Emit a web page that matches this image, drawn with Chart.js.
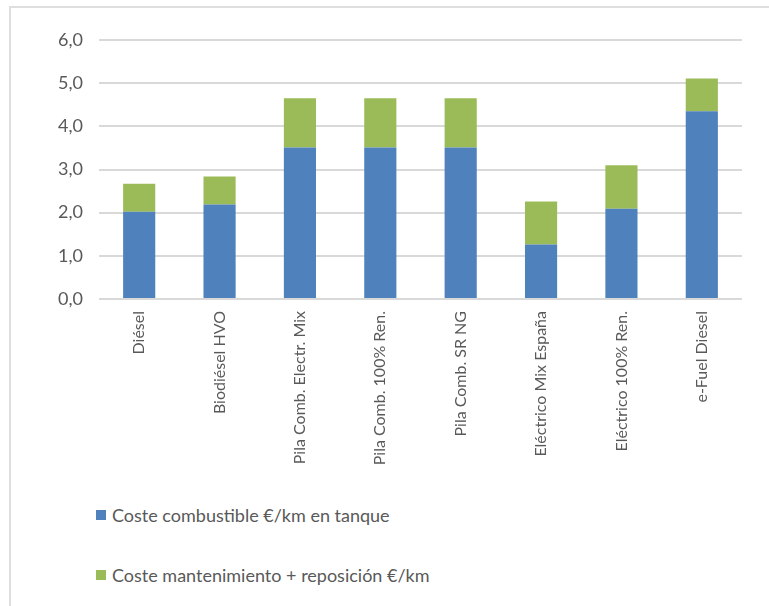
<!DOCTYPE html>
<html lang="es">
<head>
<meta charset="utf-8">
<title>Coste por km</title>
<script src="https://cdn.jsdelivr.net/npm/chart.js@4.4.1/dist/chart.umd.min.js"></script>
<style>
  html, body { margin: 0; padding: 0; background: #fff; }
  #wrap { position: relative; width: 769px; height: 606px; overflow: hidden; background: #fff; }
  #frame { position: absolute; left: 9px; top: 6px; width: 800px; height: 700px; border: 2px solid #dedede; box-sizing: border-box; }
  #costChart { position: absolute; left: 0; top: 0; }
  #legend { position: absolute; left: 96px; top: 0; font-family: Lato, sans-serif; font-size: 18px; color: #595959; }
  .leg-item { position: absolute; left: 0; display: flex; align-items: center; white-space: nowrap; transform: translateY(-50%); }
  .leg-box { width: 10px; height: 10px; margin-right: 6px; }
</style>
</head>
<body>
<div id="wrap">
  <div id="frame"></div>
  <canvas id="costChart" width="769" height="480"></canvas>
  <div id="legend"></div>
</div>
<script>
// Coste por km de cada tecnología
const categories = ['Diésel', 'Biodiésel HVO', 'Pila Comb. Electr. Mix', 'Pila Comb. 100% Ren.',
  'Pila Comb. SR NG', 'Eléctrico Mix España', 'Eléctrico 100% Ren.', 'e-Fuel Diesel'];
const fuelCost = [2.02, 2.19, 3.51, 3.51, 3.51, 1.26, 2.09, 4.35];
const upkeepCost = [0.65, 0.65, 1.14, 1.14, 1.14, 1.00, 1.01, 0.76];
const yTickLabels = ['0,0', '1,0', '2,0', '3,0', '4,0', '5,0', '6,0'];

const textColor = '#595959';
const gridColor = '#d9d9d9';

const ctx = document.getElementById('costChart').getContext('2d');
const costChart = new Chart(ctx, {
  type: 'bar',
  data: {
    labels: categories,
    datasets: [{
      label: 'Coste combustible €/km en tanque',
      data: fuelCost,
      backgroundColor: '#4f81bd'
    }, {
      label: 'Coste mantenimiento + reposición €/km',
      data: upkeepCost,
      backgroundColor: '#9bbb59'
    }]
  },
  options: {
    responsive: false,
    animation: false,
    layout: { padding: { left: 0, right: 27, top: 40, bottom: 0 } },
    datasets: {
      bar: { barPercentage: 0.4, categoryPercentage: 1 }
    },
    plugins: {
      legend: { display: false },
      tooltip: { enabled: false }
    },
    scales: {
      x: {
        stacked: true,
        grid: { display: false, drawTicks: false },
        border: { display: false },
        ticks: {
          color: textColor,
          font: { family: 'Lato', size: 16 },
          minRotation: 90,
          maxRotation: 90,
          padding: 12,
          autoSkip: false
        },
        afterFit: (scale) => { scale.height = 181; }
      },
      y: {
        stacked: true,
        min: 0,
        max: 6,
        grid: { color: gridColor, lineWidth: 2, drawTicks: false },
        border: { display: false },
        ticks: {
          stepSize: 1,
          color: textColor,
          font: { family: 'Lato', size: 18 },
          padding: 16,
          callback: (v) => yTickLabels[v]
        },
        afterFit: (scale) => { scale.width = 99; }
      }
    }
  }
});

// leyenda en dos filas bajo el gráfico
const legendRows = [515, 575];
const legendEl = document.getElementById('legend');
costChart.data.datasets.forEach((ds, i) => {
  const item = document.createElement('div');
  item.className = 'leg-item';
  item.style.top = legendRows[i] + 'px';
  const box = document.createElement('span');
  box.className = 'leg-box';
  box.style.background = ds.backgroundColor;
  const txt = document.createElement('span');
  txt.textContent = ds.label;
  item.appendChild(box);
  item.appendChild(txt);
  legendEl.appendChild(item);
});
</script>
</body>
</html>
